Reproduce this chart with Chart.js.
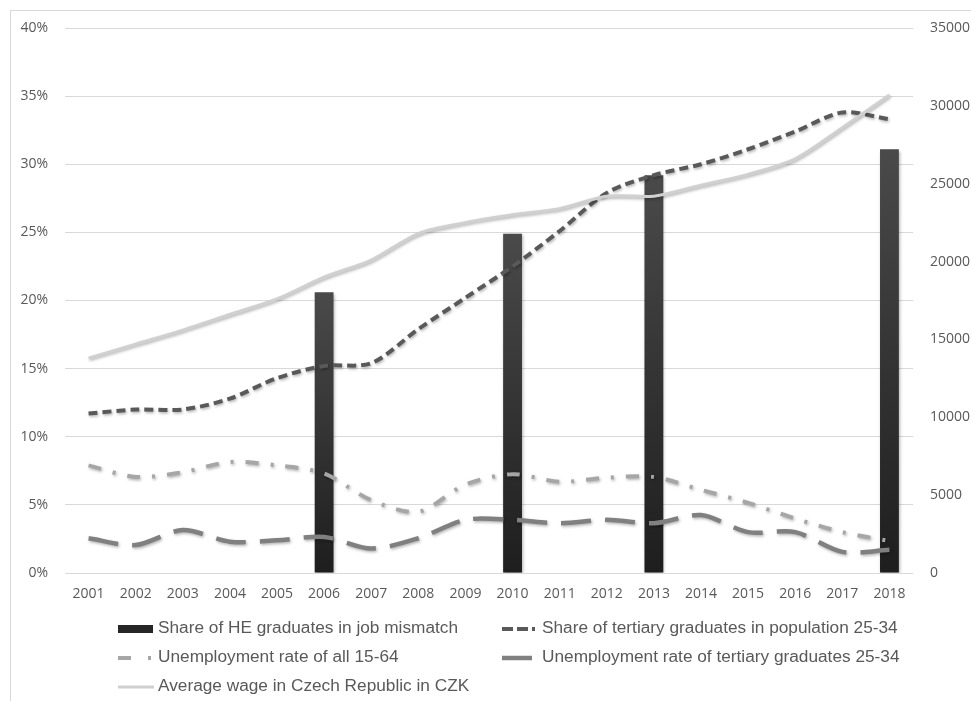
<!DOCTYPE html>
<html>
<head>
<meta charset="utf-8">
<script src="https://cdn.jsdelivr.net/npm/chart.js@4/dist/chart.umd.min.js"></script>
<style>
  html, body { margin: 0; padding: 0; background: #fff; overflow: hidden; }
  #wrap { width: 971px; height: 701px; overflow: hidden; position: relative; }
</style>
</head>
<body>
<div id="wrap"><canvas id="mixChart" width="1000" height="701"></canvas></div>
<script>
const years = ['2001','2002','2003','2004','2005','2006','2007','2008','2009','2010','2011','2012','2013','2014','2015','2016','2017','2018'];
const jobMismatch = [null, null, null, null, null, 20.6, null, null, null, 24.9, null, null, 29.2, null, null, null, null, 31.1];
const tertiaryShare = [11.7, 12.0, 12.0, 12.8, 14.3, 15.2, 15.4, 17.9, 20.2, 22.5, 25.1, 27.9, 29.2, 30.0, 31.1, 32.4, 33.8, 33.3];
const unempAll = [7.9, 7.05, 7.4, 8.15, 7.9, 7.3, 5.35, 4.5, 6.5, 7.25, 6.7, 7.0, 7.05, 6.1, 5.15, 4.0, 3.0, 2.35];
const unempTertiary = [2.55, 2.05, 3.15, 2.3, 2.4, 2.65, 1.8, 2.55, 3.9, 3.9, 3.65, 3.9, 3.65, 4.25, 3.0, 3.0, 1.55, 1.7];
const avgWage = [13800, 14700, 15600, 16600, 17600, 19000, 20100, 21800, 22500, 23000, 23400, 24200, 24200, 24900, 25600, 26600, 28600, 30700];

const FONT = "'Liberation Sans', Arial, sans-serif";
const TICK_FONT = "'Open Sans', 'Liberation Sans', sans-serif";
const TICK_COLOR = '#595959';

// soft drop shadow like the office chart
const shadowPlugin = {
    id: 'softShadow',
    beforeDatasetDraw(chart) {
        const c = chart.ctx;
        c.save();
        c.shadowColor = 'rgba(0, 0, 0, 0.3)';
        c.shadowBlur = 3;
        c.shadowOffsetX = 1;
        c.shadowOffsetY = 1.5;
    },
    afterDatasetDraw(chart) {
        chart.ctx.restore();
    }
};

// legend drawn in two columns like the original
const legendPlugin = {
    id: 'twoColLegend',
    beforeDraw(chart) {
        const c = chart.ctx;
        c.save();
        c.strokeStyle = '#d9d9d9';
        c.lineWidth = 1;
        c.strokeRect(10.5, 10.5, chart.width + 20, chart.height + 20);
        c.restore();
    },
    afterDraw(chart) {
        const c = chart.ctx;
        const cols = [118, 502];
        const rows = [629, 658, 687];
        const ds = chart.data.datasets;
        c.save();
        c.font = '16px ' + FONT;
        c.textBaseline = 'middle';
        const sx = 300 / c.measureText(ds[0].label).width;
        ds.forEach((d, i) => {
            const x = cols[i % 2];
            const y = rows[Math.floor(i / 2)];
            if (d.type === 'bar') {
                c.fillStyle = '#262626';
                c.fillRect(x, y - 4, 35, 8);
            } else {
                c.strokeStyle = d.borderColor;
                c.lineWidth = d.borderWidth;
                c.setLineDash(d.legendDash || d.borderDash || []);
                c.beginPath();
                c.moveTo(x, y);
                c.lineTo(x + 36, y);
                c.stroke();
                c.setLineDash([]);
            }
            c.fillStyle = TICK_COLOR;
            c.save();
            c.translate(x + 40, y);
            c.scale(sx, 1);
            c.fillText(d.label, 0, 0);
            c.restore();
        });
        c.restore();
    }
};

function barGradient(context) {
    const chart = context.chart;
    const area = chart.chartArea;
    if (!area || context.raw == null) return '#333';
    const top = chart.scales.y.getPixelForValue(context.raw);
    const g = chart.ctx.createLinearGradient(0, top, 0, area.bottom);
    g.addColorStop(0, '#4a4a4a');
    g.addColorStop(1, '#1e1e1e');
    return g;
}

const ctx = document.getElementById('mixChart').getContext('2d');
const mixChart = new Chart(ctx, {
    data: {
        labels: years,
        datasets: [
            {
                type: 'bar',
                label: 'Share of HE graduates in job mismatch',
                data: jobMismatch,
                backgroundColor: barGradient,
                yAxisID: 'y',
                barPercentage: 0.4,
                categoryPercentage: 1,
                order: 10
            },
            {
                type: 'line',
                label: 'Share of tertiary graduates in population 25-34',
                data: tertiaryShare,
                borderColor: '#595959',
                borderWidth: 4,
                borderDash: [9, 5],
                legendDash: [11, 4, 11, 4, 3, 30],
                pointRadius: 0,
                tension: 0.3,
                yAxisID: 'y',
                order: 2
            },
            {
                type: 'line',
                label: 'Unemployment rate of all 15-64',
                data: unempAll,
                borderColor: '#a6a6a6',
                borderWidth: 4,
                borderDash: [13, 12, 3, 12],
                legendDash: [13, 17, 3, 30],
                pointRadius: 0,
                tension: 0.3,
                yAxisID: 'y',
                order: 3
            },
            {
                type: 'line',
                label: 'Unemployment rate of tertiary graduates 25-34',
                data: unempTertiary,
                borderColor: '#808080',
                borderWidth: 4.5,
                borderDash: [30, 14],
                pointRadius: 0,
                tension: 0.3,
                yAxisID: 'y',
                order: 4
            },
            {
                type: 'line',
                label: 'Average wage in Czech Republic in CZK',
                data: avgWage,
                borderColor: '#d0d0d0',
                borderWidth: 3,
                pointRadius: 0,
                tension: 0.3,
                yAxisID: 'y1',
                order: 1
            }
        ]
    },
    options: {
        responsive: false,
        animation: false,
        layout: {
            padding: { top: 28, left: 0, right: 0, bottom: 88 }
        },
        plugins: {
            legend: { display: false },
            tooltip: { enabled: false }
        },
        scales: {
            x: {
                grid: { display: false, drawTicks: false },
                border: { display: false },
                ticks: {
                    color: TICK_COLOR,
                    padding: 13,
                    maxRotation: 0,
                    font: { family: TICK_FONT, size: 14 }
                },
                afterFit(scale) { scale.height = 40; }
            },
            y: {
                position: 'left',
                min: 0,
                max: 40,
                grid: { color: '#d9d9d9', lineWidth: 1, drawTicks: false },
                border: { display: false },
                ticks: {
                    stepSize: 5,
                    color: TICK_COLOR,
                    padding: 17,
                    font: { family: TICK_FONT, size: 14 },
                    callback: function(value) { return value + '%'; }
                },
                afterFit(scale) { scale.width = 65; }
            },
            y1: {
                position: 'right',
                min: 0,
                max: 35000,
                grid: { display: false, drawTicks: false },
                border: { display: false },
                ticks: {
                    stepSize: 5000,
                    color: TICK_COLOR,
                    padding: 17,
                    font: { family: TICK_FONT, size: 14 },
                    callback: function(value) { return String(value); }
                },
                afterFit(scale) { scale.width = 87; }
            }
        }
    },
    plugins: [shadowPlugin, legendPlugin]
});
</script>
</body>
</html>
